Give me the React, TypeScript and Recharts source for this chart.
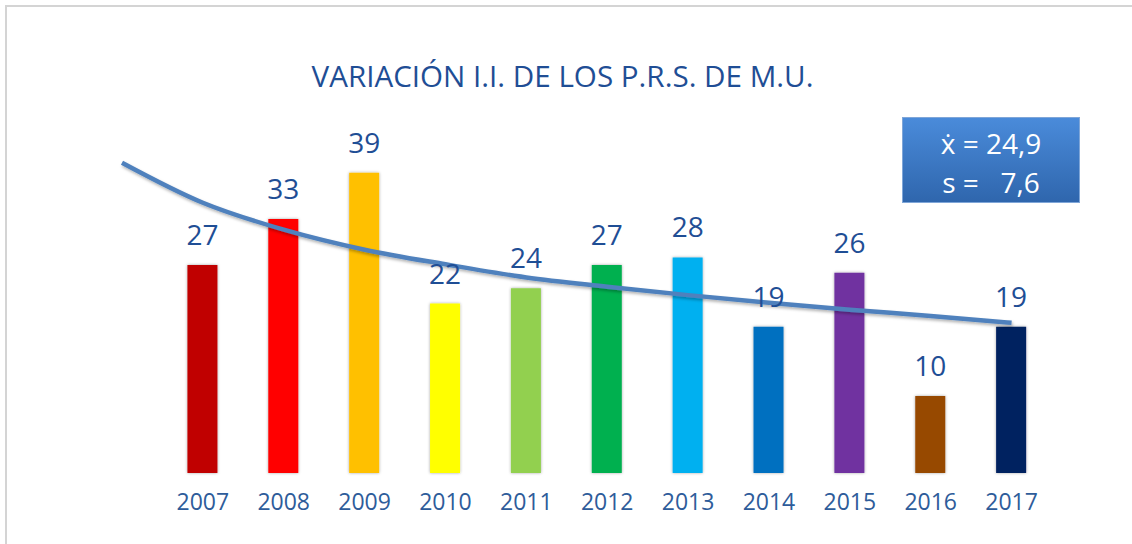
import React from "react";
import {
  ComposedChart,
  Bar,
  Line,
  XAxis,
  YAxis,
  Cell,
  LabelList,
} from "recharts";

const YEARS = ["2007", "2008", "2009", "2010", "2011", "2012", "2013", "2014", "2015", "2016", "2017"];
const VALUES = [27, 33, 39, 22, 24, 27, 28, 19, 26, 10, 19];
const BAR_COLORS = [
  "#C00000", "#FF0000", "#FFC000", "#FFFF00", "#92D050", "#00B050",
  "#00B0F0", "#0070C0", "#7030A0", "#974806", "#002060",
];
// trend line, starts one slot before 2007
const TREND_X = [-1, 0, 1, 2, 3, 4, 5, 6, 7, 8, 9, 10];
const TREND_Y = [40.3, 35.1, 31.6, 29.0, 27.1, 25.4, 24.2, 23.1, 22.1, 21.2, 20.4, 19.5];

const MEAN_LABEL = "ẋ = 24,9";
const SD_LABEL = "s =   7,6";

const FONT = "'Open Sans', 'Noto Sans', sans-serif";

const rows = TREND_X.map((x, i) => ({
  x,
  trend: TREND_Y[i],
  value: x >= 0 ? VALUES[x] : undefined,
}));

export default function App() {
  return (
    <div
      style={{
        position: "absolute",
        left: 0,
        top: 0,
        width: 1132,
        height: 544,
        background: "#fff",
        overflow: "hidden",
        fontFamily: FONT,
      }}
    >
      <div
        style={{
          position: "absolute",
          left: 5,
          top: 5,
          width: 1140,
          height: 560,
          borderTop: "2px solid #d4d4d4",
          borderLeft: "2px solid #d4d4d4",
        }}
      />
      <div
        style={{
          position: "absolute",
          left: 0,
          width: 1125,
          top: 60,
          textAlign: "center",
          fontSize: 29.6,
          lineHeight: "32px",
          color: "#1F4E95",
          whiteSpace: "nowrap",
        }}
      >
        VARIACIÓN I.I. DE LOS P.R.S. DE M.U.
      </div>

      <ComposedChart
        width={1132}
        height={544}
        data={rows}
        margin={{ top: 126.5, right: 80, bottom: 41, left: 122 }}
        style={{ position: "absolute", left: 0, top: 0 }}
      >
        <defs>
          <filter id="barShadow" x="-30%" y="-10%" width="160%" height="120%">
            <feDropShadow dx="0" dy="0" stdDeviation="1.6" floodColor="#000" floodOpacity="0.35" />
          </filter>
          <filter id="lineShadow" x="-5%" y="-20%" width="110%" height="140%">
            <feDropShadow dx="1" dy="2" stdDeviation="1.5" floodColor="#000" floodOpacity="0.3" />
          </filter>
        </defs>
        <XAxis
          type="number"
          dataKey="x"
          domain={[-1, 10.5]}
          ticks={[0, 1, 2, 3, 4, 5, 6, 7, 8, 9, 10]}
          tickFormatter={(i) => YEARS[i]}
          axisLine={false}
          tickLine={false}
          tickMargin={15}
          height={30}
          interval={0}
          tick={{ fontSize: 23, fill: "#2E5C9A", fontFamily: FONT }}
        />
        <YAxis hide domain={[0, 45]} />
        <Bar dataKey="value" barSize={30} isAnimationActive={false}>
          {rows.map((r, i) => (
            <Cell
              key={i}
              fill={r.x >= 0 ? BAR_COLORS[r.x] : "none"}
              filter="url(#barShadow)"
            />
          ))}
          <LabelList
            dataKey="value"
            position="top"
            offset={20}
            style={{ fontSize: 28, fill: "#1F4E95", fontFamily: FONT }}
          />
        </Bar>
        <Line
          type="monotone"
          dataKey="trend"
          stroke="#4F81BD"
          strokeWidth={4.5}
          dot={false}
          activeDot={false}
          filter="url(#lineShadow)"
          isAnimationActive={false}
        />
      </ComposedChart>

      <div
        style={{
          position: "absolute",
          left: 902,
          top: 117,
          width: 178,
          height: 86,
          boxSizing: "border-box",
          border: "1px solid #7FA6D8",
          background: "linear-gradient(to bottom, #4A8BDA, #2F66AD)",
          color: "#fff",
          fontSize: 28,
          lineHeight: "39px",
          textAlign: "center",
          whiteSpace: "pre",
          paddingTop: 6,
        }}
      >
        <div>{MEAN_LABEL}</div>
        <div>{SD_LABEL}</div>
      </div>
    </div>
  );
}
